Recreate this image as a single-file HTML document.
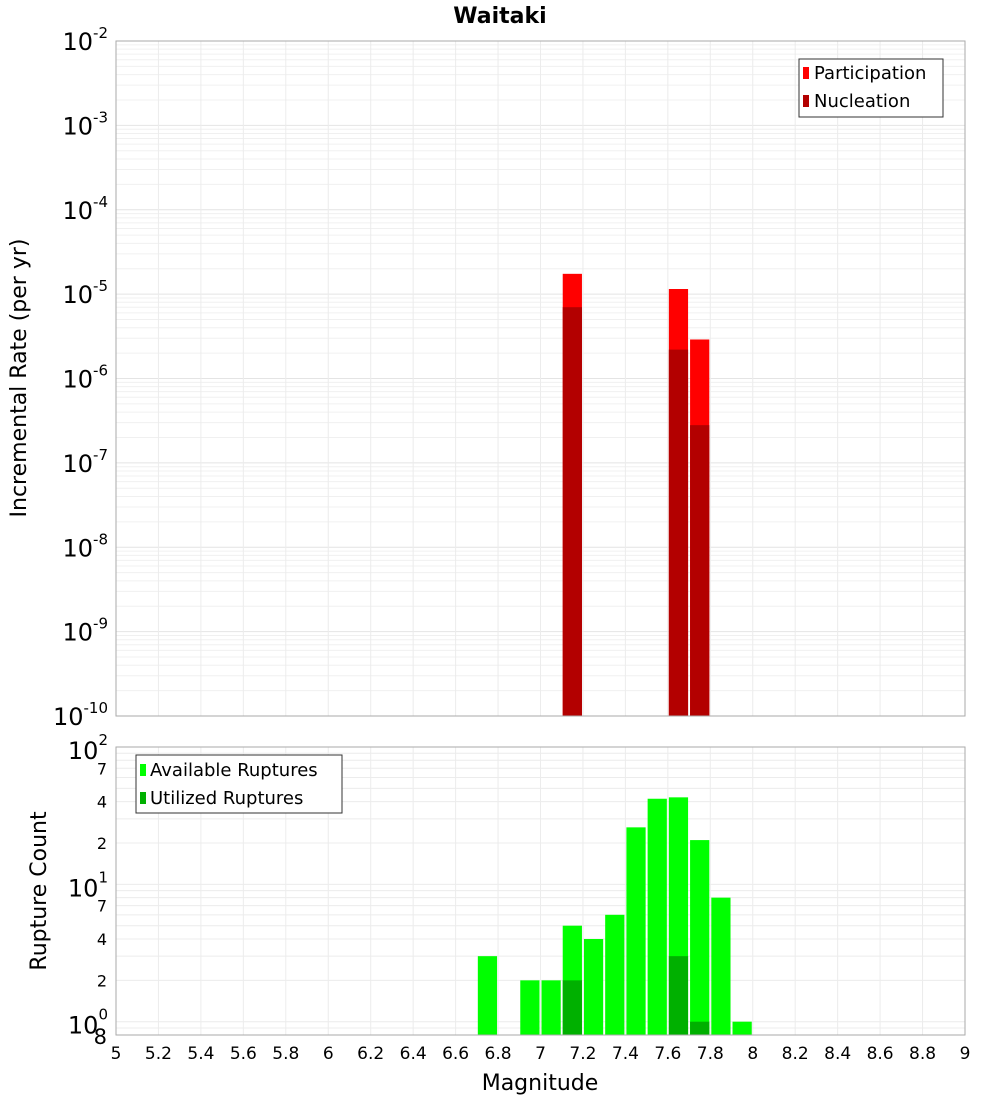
<!DOCTYPE html>
<html><head><meta charset="utf-8"><style>
body{margin:0;background:#fff;font-family:"Liberation Sans","DejaVu Sans",sans-serif}
svg text{font-family:"DejaVu Sans","Liberation Sans",sans-serif}
</style></head><body>
<svg id="c" width="1000" height="1100" xmlns="http://www.w3.org/2000/svg">
<text x="500" y="23" text-anchor="middle" font-size="22" font-weight="bold">Waitaki</text>
<g id="topG"></g>
<g id="botG"></g>
<text transform="translate(26,378) rotate(-90)" text-anchor="middle" font-size="22">Incremental Rate (per yr)</text>
<text transform="translate(46,891) rotate(-90)" text-anchor="middle" font-size="22">Rupture Count</text>
<text x="540" y="1090" text-anchor="middle" font-size="22">Magnitude</text>
</svg>
<script>
const rateMags=[7.15,7.65,7.75];
const participation=[1.74e-5,1.15e-5,2.9e-6];
const nucleation=[7e-6,2.2e-6,2.8e-7];
const countMags=[6.75,6.95,7.05,7.15,7.25,7.35,7.45,7.55,7.65,7.75,7.85,7.95];
const available=[3,2,2,5,4,6,26,42,43,21,8,1];
const utilMags=[7.15,7.65,7.75];
const utilized=[2,3,1];
const xTicks=[5,5.2,5.4,5.6,5.8,6,6.2,6.4,6.6,6.8,7,7.2,7.4,7.6,7.8,8,8.2,8.4,8.6,8.8,9];

const NS="http://www.w3.org/2000/svg";
const X0=116,X1=965;
const xs=m=>X0+(m-5)/4*(X1-X0);
const T0=41,T1=716;
const ty=v=>T0+(-2-Math.log10(v))/8*(T1-T0);
const B0=747,B1=1035;
const bmin=Math.log10(0.8),bmax=2;
const by=v=>B1-(Math.log10(v)-bmin)/(bmax-bmin)*(B1-B0);
function el(p,t,a){const e=document.createElementNS(NS,t);for(const k in a)e.setAttribute(k,a[k]);p.appendChild(e);return e;}
const topG=document.getElementById('topG'),botG=document.getElementById('botG');
const svgRoot=document.getElementById('c');

el(topG,'rect',{x:X0,y:T0,width:X1-X0,height:T1-T0,fill:'#fff'});
for(let d=-10;d<-2;d++)for(let k=1;k<10;k++){const y=ty(k*Math.pow(10,d));
 const g=el(topG,'line',{x1:X0,x2:X1,y1:y,y2:y,stroke:k==1?'#e4e4e4':'#f0f0f0','stroke-width':1});
 
 }
xTicks.forEach(m=>{const x=xs(m);
 const g=el(topG,'line',{x1:x,x2:x,y1:T0,y2:T1,stroke:'#ececec'});
 
 
 const g2=el(botG,'line',{x1:x,x2:x,y1:B0,y2:B1,stroke:'#ececec'});
 
 
 const t=el(svgRoot,'text',{x:x,y:1059,'text-anchor':'middle','font-size':17});
 t.textContent=String(m);
 
 });
for(let d=-10;d<=-2;d++){const y=ty(Math.pow(10,d));
 const t=el(topG,'text',{x:108,y:y+9,'text-anchor':'end','font-size':24});
 
 
 t.innerHTML='10<tspan dy="-12" font-size="15">'+d+'</tspan>';}
rateMags.forEach((m,i)=>{
 const x=xs(m-0.05)+1,w=xs(m+0.05)-xs(m-0.05)-2;
 const r=el(topG,'rect',{x:x,y:ty(participation[i]),width:w,height:T1-ty(participation[i]),fill:'#ff0000'});
 
 
 const n=el(topG,'rect',{x:x,y:ty(nucleation[i]),width:w,height:T1-ty(nucleation[i]),fill:'#b30000'});
 
 });
el(topG,'rect',{x:X0,y:T0,width:X1-X0,height:T1-T0,fill:'none',stroke:'#aaa'});
const lg=el(topG,'g',{});


el(lg,'rect',{x:799,y:59,width:144,height:58,fill:'#fff',stroke:'#333'});
el(lg,'rect',{x:803,y:67,width:6,height:12,fill:'#ff0000'});
el(lg,'rect',{x:803,y:95,width:6,height:12,fill:'#b30000'});
let tt=el(lg,'text',{x:814,y:79,'font-size':18});tt.textContent='Participation';
tt=el(lg,'text',{x:814,y:107,'font-size':18});tt.textContent='Nucleation';

[0.8,0.9,1,2,3,4,5,6,7,8,9,10,20,30,40,50,60,70,80,90,100].forEach(v=>{const y=by(v);
 const g=el(botG,'line',{x1:X0,x2:X1,y1:y,y2:y,stroke:'#ececec'});
 
 });
[[1,'0'],[10,'1'],[100,'2']].forEach(([v,e])=>{const y=by(v);
 const t=el(botG,'text',{x:108,y:y+12,'text-anchor':'end','font-size':24});
 
 
 t.innerHTML='10<tspan dy="-14" font-size="15">'+e+'</tspan>';});
[[0.8,'8'],[2,'2'],[4,'4'],[7,'7'],[20,'2'],[40,'4'],[70,'7']].forEach(([v,s])=>{
 const t=el(botG,'text',{x:107,y:by(v)+(v==0.8?9:6),'text-anchor':'end','font-size':v==0.8?21:16});
 t.textContent=s;
 
 });
countMags.forEach((m,i)=>{
 const x=xs(m-0.05)+1,w=xs(m+0.05)-xs(m-0.05)-2;
 const r=el(botG,'rect',{x:x,y:by(available[i]),width:w,height:B1-by(available[i]),fill:'#00ff00'});
 
 });
utilMags.forEach((m,i)=>{
 const x=xs(m-0.05)+1,w=xs(m+0.05)-xs(m-0.05)-2;
 const r=el(botG,'rect',{x:x,y:by(utilized[i]),width:w,height:B1-by(utilized[i]),fill:'#00b000'});
 
 });
el(botG,'rect',{x:X0,y:B0,width:X1-X0,height:B1-B0,fill:'none',stroke:'#aaa'});
const lb=el(botG,'g',{});


el(lb,'rect',{x:136,y:755,width:206,height:58,fill:'#fff',stroke:'#333'});
el(lb,'rect',{x:140,y:764,width:6,height:12,fill:'#00ff00'});
el(lb,'rect',{x:140,y:792,width:6,height:12,fill:'#00b000'});
tt=el(lb,'text',{x:150,y:776,'font-size':18});tt.textContent='Available Ruptures';
tt=el(lb,'text',{x:150,y:804,'font-size':18});tt.textContent='Utilized Ruptures';
</script>
</body></html>
